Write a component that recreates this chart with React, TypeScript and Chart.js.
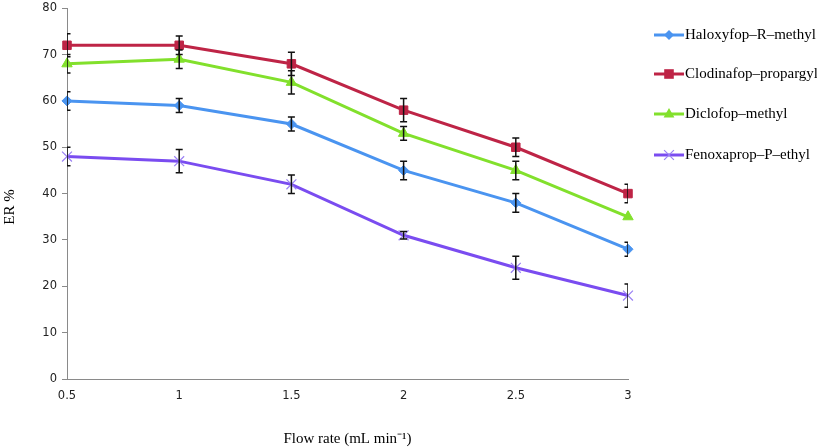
import React, { useEffect, useRef } from "react";
import { Chart, registerables } from "chart.js";

Chart.register(...registerables);

const flowRates = [0.5, 1, 1.5, 2, 2.5, 3];
const xTickLabels = ["0.5", "1", "1.5", "2", "2.5", "3"];
const seriesNames = ["Haloxyfop\u2013R\u2013methyl", "Clodinafop\u2013propargyl", "Diclofop\u2013methyl", "Fenoxaprop\u2013P\u2013ethyl"];
const haloxyfop = [60, 59, 55, 45, 38, 28];
const haloxyfopErr = [2, 1.5, 1.5, 2, 2, 1.5];
const clodinafop = [72, 72, 68, 58, 50, 40];
const clodinafopErr = [2.5, 2, 2.5, 2.5, 2, 2];
const diclofop = [68, 69, 64, 53, 45, 35];
const diclofopErr = [2, 2, 2.5, 1.5, 2, 0];
const fenoxaprop = [48, 47, 42, 31, 24, 18];
const fenoxapropErr = [2, 2.5, 2, 0.8, 2.5, 2.5];

const colors = ["#4A94F0", "#BE2446", "#82E02C", "#7A4CF0"];
const pointStyles = ["rectRot", "rect", "triangle", "crossRot"];
const pointRadii = [5, 6, 6, 7];

const errorBarPlugin = {
  id: "errorBars",
  afterDatasetsDraw(chart: any) {
    const { ctx, chartArea, scales } = chart;
    ctx.save();
    ctx.beginPath();
    ctx.rect(chartArea.left, chartArea.top - 20, chartArea.right - chartArea.left, chartArea.bottom - chartArea.top + 20);
    ctx.clip();
    ctx.strokeStyle = "#111";
    ctx.lineWidth = 1.5;
    chart.data.datasets.forEach((ds: any) => {
      ds.data.forEach((pt: any, i: number) => {
        const e = ds.errors[i];
        if (!e) return;
        const x = scales.x.getPixelForValue(pt.x);
        const y1 = scales.y.getPixelForValue(pt.y - e);
        const y2 = scales.y.getPixelForValue(pt.y + e);
        ctx.beginPath();
        ctx.moveTo(x, y1);
        ctx.lineTo(x, y2);
        ctx.moveTo(x - 3.5, y1);
        ctx.lineTo(x + 3.5, y1);
        ctx.moveTo(x - 3.5, y2);
        ctx.lineTo(x + 3.5, y2);
        ctx.stroke();
      });
    });
    ctx.restore();
  },
};

function drawPointLocal(ctx: any, style: string, r: number, x: number, y: number) {
  ctx.beginPath();
  if (style === "rectRot") {
    ctx.moveTo(x, y - r);
    ctx.lineTo(x + r, y);
    ctx.lineTo(x, y + r);
    ctx.lineTo(x - r, y);
    ctx.closePath();
    ctx.fill();
  } else if (style === "rect") {
    const s = r * 0.8;
    ctx.rect(x - s, y - s, 2 * s, 2 * s);
    ctx.fill();
  } else if (style === "triangle") {
    ctx.moveTo(x, y - r);
    ctx.lineTo(x + r * 0.9, y + r * 0.6);
    ctx.lineTo(x - r * 0.9, y + r * 0.6);
    ctx.closePath();
    ctx.fill();
  } else {
    const d = r * 0.7;
    ctx.moveTo(x - d, y - d);
    ctx.lineTo(x + d, y + d);
    ctx.moveTo(x + d, y - d);
    ctx.lineTo(x - d, y + d);
    ctx.stroke();
  }
}

const legendPlugin = {
  id: "sideLegend",
  afterDraw(chart: any) {
    const { ctx } = chart;
    ctx.save();
    const ys = [35, 74, 114, 155];
    chart.data.datasets.forEach((ds: any, i: number) => {
      const y = ys[i];
      ctx.strokeStyle = ds.borderColor;
      ctx.lineWidth = 3;
      ctx.beginPath();
      ctx.moveTo(654, y);
      ctx.lineTo(684, y);
      ctx.stroke();
      ctx.fillStyle = ds.backgroundColor;
      ctx.strokeStyle = ds.pointBorderColor;
      ctx.lineWidth = 1.2;
      drawPointLocal(ctx, ds.pointStyle, ds.pointRadius, 669, y);
      ctx.fillStyle = "#000";
      ctx.font = "15px 'Liberation Serif'";
      ctx.textBaseline = "middle";
      ctx.textAlign = "left";
      ctx.fillText(ds.label, 685, y);
    });
    ctx.translate(10, 207);
    ctx.rotate(-Math.PI / 2);
    ctx.font = "15px 'Liberation Serif'";
    ctx.textAlign = "center";
    ctx.textBaseline = "middle";
    ctx.fillText("ER %", 0, 0);
    ctx.restore();
  },
};

export default function App() {
  const ref = useRef<HTMLCanvasElement>(null);
  useEffect(() => {
    document.body.style.margin = "0";
    const all = [haloxyfop, clodinafop, diclofop, fenoxaprop];
    const errs = [haloxyfopErr, clodinafopErr, diclofopErr, fenoxapropErr];
    const chart = new Chart(ref.current!, {
      type: "line",
      data: {
        datasets: all.map((vals, i) => ({
          label: seriesNames[i],
          data: vals.map((v, j) => ({ x: flowRates[j], y: v })),
          errors: errs[i],
          borderColor: colors[i],
          backgroundColor: colors[i],
          borderWidth: 3,
          pointStyle: pointStyles[i],
          pointRadius: pointRadii[i],
          pointBorderWidth: i === 3 ? 1.2 : 1,
          pointBorderColor: i === 3 ? "#9A80F4" : colors[i],
          tension: 0,
          clip: false,
        })) as any,
      },
      options: {
        animation: false,
        responsive: false,
        layout: { padding: { top: 0, right: 189, left: 0, bottom: 0 } },
        plugins: { legend: { display: false }, tooltip: { enabled: false } },
        scales: {
          x: {
            type: "linear",
            min: 0.5,
            max: 3,
            afterFit(s: any) { s.height = 69; },
            afterBuildTicks(s: any) { s.ticks = flowRates.map((v) => ({ value: v })); },
            grid: { display: false, drawOnChartArea: false, drawTicks: true, tickLength: 5, color: "#8A8A8A" },
            border: { display: true, color: "#8A8A8A", width: 1 },
            ticks: {
              color: "#222",
              font: { family: "'DejaVu Sans'", size: 11.5 },
              padding: 5,
              maxRotation: 0,
              callback: (v: any) => xTickLabels[flowRates.indexOf(v)],
            },
            title: {
              display: true,
              text: "Flow rate (mL min\u207B\u00B9)",
              color: "#000",
              font: { family: "'Liberation Serif'", size: 15 },
              padding: { top: 23, bottom: 0 },
            },
          },
          y: {
            min: 0,
            max: 80,
            afterFit(s: any) { s.width = 67; s.paddingTop = 4; },
            grid: { display: true, drawOnChartArea: false, drawTicks: true, tickLength: 5, color: "#8A8A8A" },
            border: { display: true, color: "#8A8A8A", width: 1 },
            ticks: {
              stepSize: 10,
              color: "#222",
              font: { family: "'DejaVu Sans'", size: 11.5 },
              padding: 5,
            },
            title: { display: false },
          },
        },
      } as any,
      plugins: [errorBarPlugin, legendPlugin],
    });
    return () => chart.destroy();
  }, []);
  return (
    <div style={{ width: 817, height: 448, background: "#fff" }}>
      <canvas ref={ref} width={817} height={448} />
    </div>
  );
}
